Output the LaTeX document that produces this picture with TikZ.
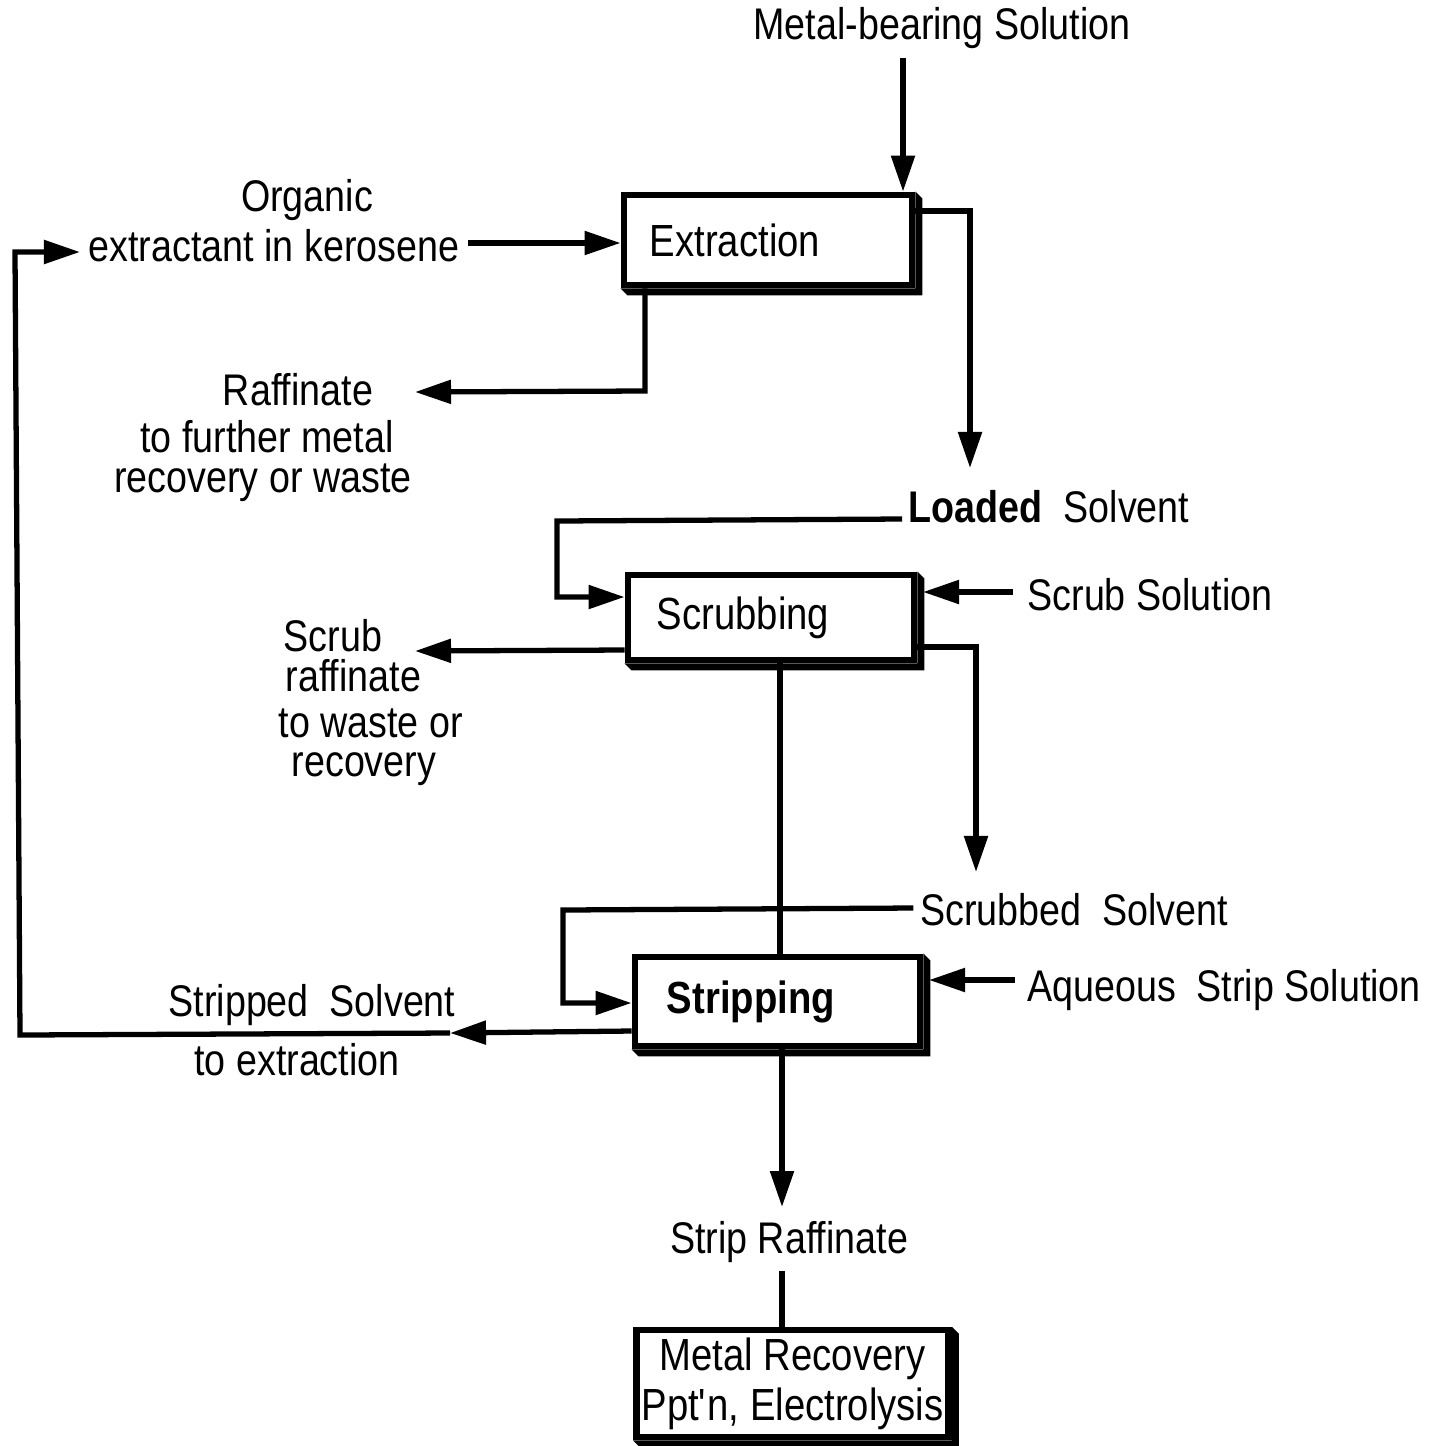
\documentclass[tikz,border=0pt]{standalone}
\usepackage{fontspec}
\setmainfont{Liberation Sans}[FakeStretch=0.85]
\usetikzlibrary{arrows.meta}
\newcommand\boxshadow[1]{%
  \fill (#1.south west) -- ([shift={(7,7)}]#1.south west) -- ([shift={(7,7)}]#1.south east)
     -- ([shift={(7,7)}]#1.north east) -- (#1.north east) -- (#1.south east) -- cycle;}
\begin{document}
\begin{tikzpicture}[x=0.01cm,y=-0.01cm,
  lbl/.style={font=\fontsize{12.6}{13.4}\selectfont, inner sep=0pt, align=center},
  conn/.style={line width=1.5pt, line join=miter},
  arr/.style={conn, -{Triangle[length=3.6mm,width=2.3mm]}},
  procbox/.style={draw, line width=1.9pt, inner ysep=0pt, align=left,
     font=\fontsize{12.8}{13.4}\selectfont}
]
\useasboundingbox (0,0) rectangle (1446,1445);

% process boxes
\node[procbox, minimum width=2.88cm, minimum height=0.9cm, text width=2.36cm, inner xsep=2.6mm]
  (ext) at (768,240) {Extraction};
\node[procbox, minimum width=2.86cm, minimum height=0.85cm, text width=2.28cm, inner xsep=2.9mm]
  (scr) at (771,617.5) {Scrubbing};
\node[procbox, minimum width=2.85cm, minimum height=0.89cm, text width=2.21cm, inner xsep=3.2mm]
  (str) at (777.5,1001.5) {\textbf{Stripping}};
\node[procbox, minimum width=3.11cm, minimum height=1.07cm, inner xsep=0.5mm, align=center]
  (mr) at (792.5,1383.5) {Metal Recovery\\[0.3mm]Ppt\textquotesingle n, Electrolysis};
\boxshadow{ext}
\boxshadow{scr}
\boxshadow{str}
\boxshadow{mr}

% labels
\node[lbl] (mbs) at (942,28) {Metal-bearing Solution};
\node[lbl] (org1) at (307,200) {Organic};
\node[lbl] (org2) at (274,246) {extractant in kerosene};
\node[lbl] (raf1) at (298,390) {Raffinate};
\node[lbl] (raf2) at (267,437) {to further metal};
\node[lbl] (raf3) at (263,483) {recovery or waste};
\node[lbl] (ls) at (1049,507) {\textbf{Loaded}\ \ Solvent};
\node[lbl] (ss) at (1150,595) {Scrub Solution};
\node[lbl, anchor=west] (scr1) at (283,636) {Scrub};
\node[lbl, anchor=west] (scr2) at (285,676) {raffinate};
\node[lbl, anchor=west] (scr3) at (278,723) {to waste or};
\node[lbl, anchor=west] (scr4) at (291,769) {recovery};
\node[lbl] (sbs) at (1074,910) {Scrubbed\ \ Solvent};
\node[lbl] (aq) at (1224,990) {Aqueous\ \ Strip Solution};
\node[lbl] (sts1) at (312,1005) {Stripped\ \ Solvent};
\node[lbl] (sts2) at (297,1060) {to extraction};
\node[lbl] (srf) at (789,1242) {Strip Raffinate};

% free ends / bends
\coordinate (scrin) at (923,592);
\coordinate (strin) at (929,980);
\coordinate (orgin) at (80,252);

% connectors
\draw[arr] (903,58) -- (ext.north -| 903,0);
\draw[arr] (org2.east) ++(8,-3) -- (ext.west |- 0,243);
\draw[arr] (ext.east |- 0,211) -- (970,211) -- (970,468);
\draw[arr] (ext.south -| 645,0) -- (645,391) -- (415,392);
\draw[arr] (ls.west |- 0,519) ++(-6,0) -- (557,521) -- (557,597) -- (scr.west |- 0,597);
\draw[arr] (ss.west |- 0,592) ++(-14,0) -- (scrin);
\draw[arr] (scr.west |- 0,650) -- (415,651);
\draw[arr] (scr.east |- 0,647) -- (976,647) -- (976,872);
\draw[conn] (scr.south -| 780,0) -- (str.north -| 780,0);
\draw[arr] (sbs.west |- 0,908) ++(-6,0) -- (563,910) -- (563,1003) -- (str.west |- 0,1003);
\draw[arr] (aq.west |- 0,980) ++(-12,0) -- (strin);
\draw[arr] (str.west |- 0,1031) -- (450,1033);
\draw[arr] (450,1033) -- (20,1035) -- (15,252) -- (orgin);
\draw[arr] (str.south -| 782,0) -- (782,1207);
\draw[conn] (srf.south -| 782,0) ++(0,8) -- (mr.north -| 782,0);
\end{tikzpicture}
\end{document}
